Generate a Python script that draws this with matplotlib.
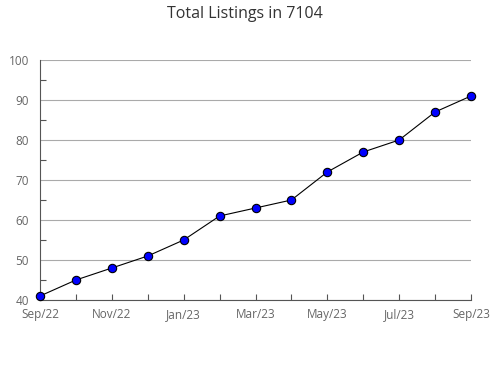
import numpy as np
from matplotlib import pyplot as plt
from matplotlib.ticker import MultipleLocator

plt.rcParams['font.family'] = ['Open Sans', 'DejaVu Sans']

# Monthly data, Sep/22 .. Sep/23
months = ["Sep/22", "Oct/22", "Nov/22", "Dec/22", "Jan/23", "Feb/23", "Mar/23",
          "Apr/23", "May/23", "Jun/23", "Jul/23", "Aug/23", "Sep/23"]
listings = [41, 45, 48, 51, 55, 61, 63, 65, 72, 77, 80, 87, 91]

x = np.arange(len(months))

fig = plt.figure(figsize=(4.9, 3.8), dpi=100)
ax = fig.add_axes([40/490, 80/380, 431/490, 240/380])

ax.set_ylim(40, 100)
ax.set_xlim(0, len(months) - 1)
ax.yaxis.set_major_locator(MultipleLocator(10))
ax.yaxis.set_minor_locator(MultipleLocator(5))
ax.grid(axis="y", which="major", color="#aaaaaa", linewidth=0.8)
ax.set_axisbelow(True)

ax.plot(x, listings, "-", color="black", linewidth=0.8, zorder=3)
ax.plot(x, listings, "o", markerfacecolor="#0000ff", markeredgecolor="black",
        markersize=6, markeredgewidth=0.8, zorder=4, clip_on=False)

ax.set_xticks(x)
ax.set_xticklabels([m if i % 2 == 0 else "" for i, m in enumerate(months)])

for side in ["top", "right"]:
    ax.spines[side].set_visible(False)
for side in ["left", "bottom"]:
    ax.spines[side].set_color("#555555")
    ax.spines[side].set_linewidth(0.8)

ax.tick_params(axis="both", which="both", direction="in", color="#555555",
               labelcolor="#666666", labelsize=8.5, width=0.8)
ax.tick_params(axis="y", which="major", length=0, pad=8)
ax.tick_params(axis="y", which="minor", length=4)
ax.tick_params(axis="x", length=4, pad=5.5)

fig.suptitle("Total Listings in 7104", x=0.5, y=0.985, fontsize=11.5,
             color="#333333")

fig.savefig("out.png", dpi=100)
